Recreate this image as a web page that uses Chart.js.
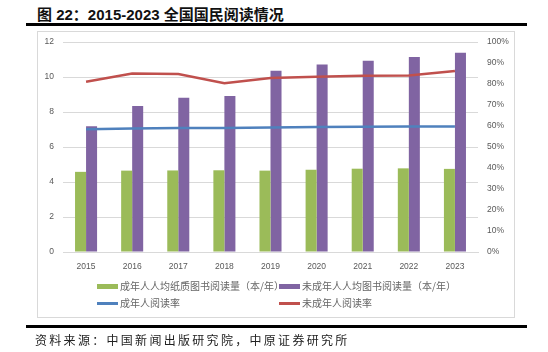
<!DOCTYPE html>
<html>
<head>
<meta charset="utf-8">
<script src="https://cdn.jsdelivr.net/npm/chart.js@4"></script>
<style>
  html, body { margin: 0; padding: 0; background: #fff; }
  body { width: 548px; height: 352px; position: relative; overflow: hidden; font-family: "Liberation Sans", "Noto Sans CJK SC", sans-serif; }
  #title { position: absolute; left: 37px; top: 3px; font-size: 15px; font-weight: bold; color: #111; white-space: nowrap; font-family: "Liberation Sans", "Noto Sans CJK SC", sans-serif; }
  .rule { position: absolute; left: 26px; width: 501px; height: 3px; background: #000; }
  #box { position: absolute; left: 37px; top: 31px; width: 476px; height: 285px; border: 1px solid #d9d9d9; }
  #c { position: absolute; left: 0; top: 0; }
  #src { position: absolute; left: 35px; top: 331px; font-size: 12px; letter-spacing: 2.3px; color: #222; white-space: nowrap; font-family: "Noto Sans CJK SC", sans-serif; }
  .lg { position: absolute; font-size: 10px; color: #666; white-space: nowrap; font-family: "Noto Sans CJK SC", sans-serif; line-height: 12px; }
  .sw { position: absolute; width: 21px; }
</style>
</head>
<body>
<div id="title">图 22：2015-2023 全国国民阅读情况</div>
<div class="rule" style="top:23px"></div>
<div id="box"></div>
<canvas id="c" width="548" height="352"></canvas>
<div id="legend"></div>
<div class="rule" style="top:325px"></div>
<div id="src">资料来源：中国新闻出版研究院，中原证券研究所</div>
<script>
const categories = ["2015","2016","2017","2018","2019","2020","2021","2022","2023"];
const adultPaperBooks = [4.58, 4.65, 4.66, 4.67, 4.65, 4.70, 4.76, 4.78, 4.75];
const minorBooks = [7.19, 8.34, 8.81, 8.91, 10.36, 10.71, 10.93, 11.14, 11.39];
const adultReadingRate = [0.584, 0.588, 0.591, 0.590, 0.593, 0.595, 0.597, 0.598, 0.598];
const minorReadingRate = [0.811, 0.850, 0.848, 0.804, 0.829, 0.834, 0.839, 0.841, 0.862];
const leftTicks = [0, 2, 4, 6, 8, 10, 12];
const rightTicks = ["0%","10%","20%","30%","40%","50%","60%","70%","80%","90%","100%"];
const seriesNames = ["成年人人均纸质图书阅读量（本/年）", "未成年人人均图书阅读量（本/年）", "成年人阅读率", "未成年人阅读率"];

const COLORS = { green: "#9BBB59", purple: "#8064A2", blue: "#4F81BD", red: "#C0504D" };
const tickFont = { family: "Liberation Sans", size: 8.5 };
const tickColor = "#595959";

new Chart(document.getElementById("c"), {
  type: "bar",
  data: {
    labels: categories,
    datasets: [
      { type: "line", label: seriesNames[2], data: adultReadingRate, yAxisID: "y1", borderColor: COLORS.blue, backgroundColor: COLORS.blue, borderWidth: 2.5, pointRadius: 0, tension: 0, order: 0 },
      { type: "line", label: seriesNames[3], data: minorReadingRate, yAxisID: "y1", borderColor: COLORS.red, backgroundColor: COLORS.red, borderWidth: 2.5, pointRadius: 0, tension: 0, order: 0 },
      { type: "bar", label: seriesNames[0], data: adultPaperBooks, yAxisID: "y", backgroundColor: COLORS.green, categoryPercentage: 0.478, barPercentage: 1, order: 1 },
      { type: "bar", label: seriesNames[1], data: minorBooks, yAxisID: "y", backgroundColor: COLORS.purple, categoryPercentage: 0.478, barPercentage: 1, order: 1 }
    ]
  },
  options: {
    responsive: false,
    animation: false,
    devicePixelRatio: 1,
    layout: { padding: { top: 42, left: 0, right: 0, bottom: 0 } },
    plugins: { legend: { display: false }, tooltip: { enabled: false } },
    scales: {
      x: {
        offset: true,
        grid: { display: false },
        border: { display: true, color: "#d9d9d9" },
        ticks: { font: tickFont, color: tickColor, padding: 2, maxRotation: 0 },
        afterFit: s => { s.height = 100; }
      },
      y: {
        position: "left",
        min: 0, max: 12,
        afterBuildTicks: s => { s.ticks = leftTicks.map(v => ({ value: v })); },
        grid: { color: "#d9d9d9", drawTicks: false, lineWidth: 1 },
        border: { display: false },
        ticks: { font: tickFont, color: tickColor, padding: 9 },
        afterFit: s => { s.width = 63; }
      },
      y1: {
        position: "right",
        min: 0, max: 1,
        afterBuildTicks: s => { s.ticks = rightTicks.map((t, i) => ({ value: i / 10 })); },
        grid: { display: false, drawTicks: false },
        border: { display: false },
        ticks: { font: tickFont, color: tickColor, padding: 9, callback: (v, i) => rightTicks[i] },
        afterFit: s => { s.width = 70; }
      }
    }
  }
});

const legendItems = [
  { name: seriesNames[0], color: COLORS.green, x: 97, y: 286, h: 5 },
  { name: seriesNames[1], color: COLORS.purple, x: 279, y: 286, h: 5 },
  { name: seriesNames[2], color: COLORS.blue, x: 97, y: 303, h: 3 },
  { name: seriesNames[3], color: COLORS.red, x: 279, y: 303, h: 3 }
];
const lg = document.getElementById("legend");
legendItems.forEach(it => {
  const sw = document.createElement("div");
  sw.className = "sw";
  sw.style.left = it.x + "px";
  sw.style.top = (it.y - it.h / 2) + "px";
  sw.style.height = it.h + "px";
  sw.style.background = it.color;
  lg.appendChild(sw);
  const t = document.createElement("div");
  t.className = "lg";
  t.style.left = (it.x + 23) + "px";
  t.style.top = (it.y - 6) + "px";
  t.textContent = it.name;
  lg.appendChild(t);
});
</script>
</body>
</html>
